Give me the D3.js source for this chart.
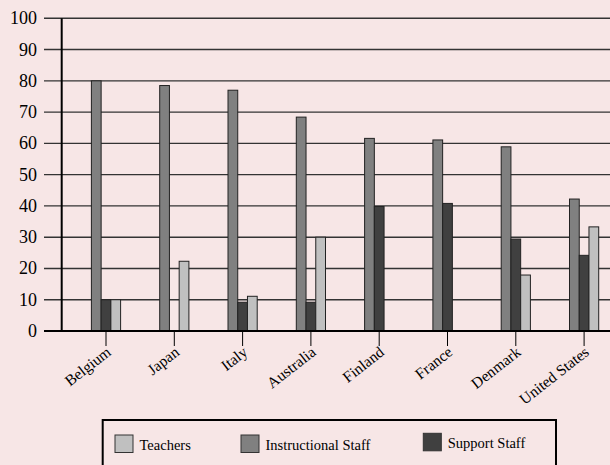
<!DOCTYPE html>
<html><head><meta charset="utf-8">
<script src="https://cdn.jsdelivr.net/npm/d3@7"></script>
<style>
html,body{margin:0;padding:0;background:#f7e6e6;}
svg{display:block;font-family:"Liberation Serif","Times New Roman",serif;}
</style></head>
<body>
<svg id="chart" width="610" height="465"></svg>
<script>
const categories = ["Belgium","Japan","Italy","Australia","Finland","France","Denmark","United States"];
const instructional = [80, 78.5, 77, 68.4, 61.6, 61.1, 58.9, 42.2];
const support       = [10, 0, 9.2, 9.2, 39.8, 40.8, 29.4, 24.2];
const teachers      = [10, 22.3, 11.1, 30, 0, 0, 17.9, 33.3];
const seriesNames = ["Instructional Staff","Support Staff","Teachers"];
const seriesValues = [instructional, support, teachers];
const seriesColors = ["#808080","#404040","#c0c0c0"];
const legendOrder = ["Teachers","Instructional Staff","Support Staff"];
const yTicks = [0,10,20,30,40,50,60,70,80,90,100];

const svg = d3.select("#chart");
svg.append("rect").attr("width",610).attr("height",465).attr("fill","#f7e6e6");

const y = d3.scaleLinear().domain([0,100]).range([331,18.3]);
const x = d3.scalePoint().domain(categories).range([106,584.1]);
const xs = d3.scaleBand().domain(seriesNames).range([-14.6,14.6]);

// gridlines
svg.append("g").selectAll("line").data(yTicks.filter(t=>t>0)).join("line")
  .attr("x1",44).attr("x2",610)
  .attr("y1",d=>y(d)).attr("y2",d=>y(d))
  .attr("stroke","#333").attr("stroke-width",1.4);

// y tick labels
svg.append("g").selectAll("text").data(yTicks).join("text")
  .attr("x",37).attr("y",d=>y(d)+6)
  .attr("text-anchor","end").attr("font-size",18).attr("fill","#000")
  .text(d=>d);

// bars
const rows = categories.map((c,i)=>({c, vals: seriesNames.map((s,j)=>({s, v: seriesValues[j][i], col: seriesColors[j]}))}));
const g = svg.append("g");
rows.forEach(r=>{
  g.selectAll(null).data(r.vals.filter(d=>d.v>0)).join("rect")
    .attr("x",d=>x(r.c)+xs(d.s))
    .attr("width",xs.bandwidth())
    .attr("y",d=>y(d.v))
    .attr("height",d=>y(0)-y(d.v))
    .attr("fill",d=>d.col)
    .attr("stroke","#222").attr("stroke-width",1);
});

// axes lines
svg.append("line").attr("x1",61.7).attr("x2",61.7).attr("y1",y(100)).attr("y2",y(0))
  .attr("stroke","#000").attr("stroke-width",2);
svg.append("line").attr("x1",44).attr("x2",610).attr("y1",y(0)).attr("y2",y(0))
  .attr("stroke","#000").attr("stroke-width",2);

// x ticks
svg.append("g").selectAll("line").data(categories).join("line")
  .attr("x1",d=>x(d)).attr("x2",d=>x(d)).attr("y1",y(0)).attr("y2",y(0)+15)
  .attr("stroke","#000").attr("stroke-width",1);

// x labels
svg.append("g").selectAll("text").data(categories).join("text")
  .attr("transform",d=>`translate(${x(d)+6},${y(0)+23}) rotate(-38)`)
  .attr("text-anchor","end").attr("font-size",15.5).attr("fill","#000")
  .text(d=>d);

// legend
svg.append("rect").attr("x",102.7).attr("y",420).attr("width",453.3).attr("height",70)
  .attr("fill","none").attr("stroke","#000").attr("stroke-width",2);
const legendX = [115, 241, 423.3];
const legendY = [435, 435, 433.3];
legendOrder.forEach((name,i)=>{
  const col = seriesColors[seriesNames.indexOf(name)];
  svg.append("rect").attr("x",legendX[i]).attr("y",legendY[i]).attr("width",18).attr("height",17.5)
    .attr("fill",col).attr("stroke","#333").attr("stroke-width",1);
  svg.append("text").attr("x",legendX[i]+24.5).attr("y",legendY[i]+15)
    .attr("font-size",14.5).attr("fill","#000").text(name);
});
</script>
</body></html>
